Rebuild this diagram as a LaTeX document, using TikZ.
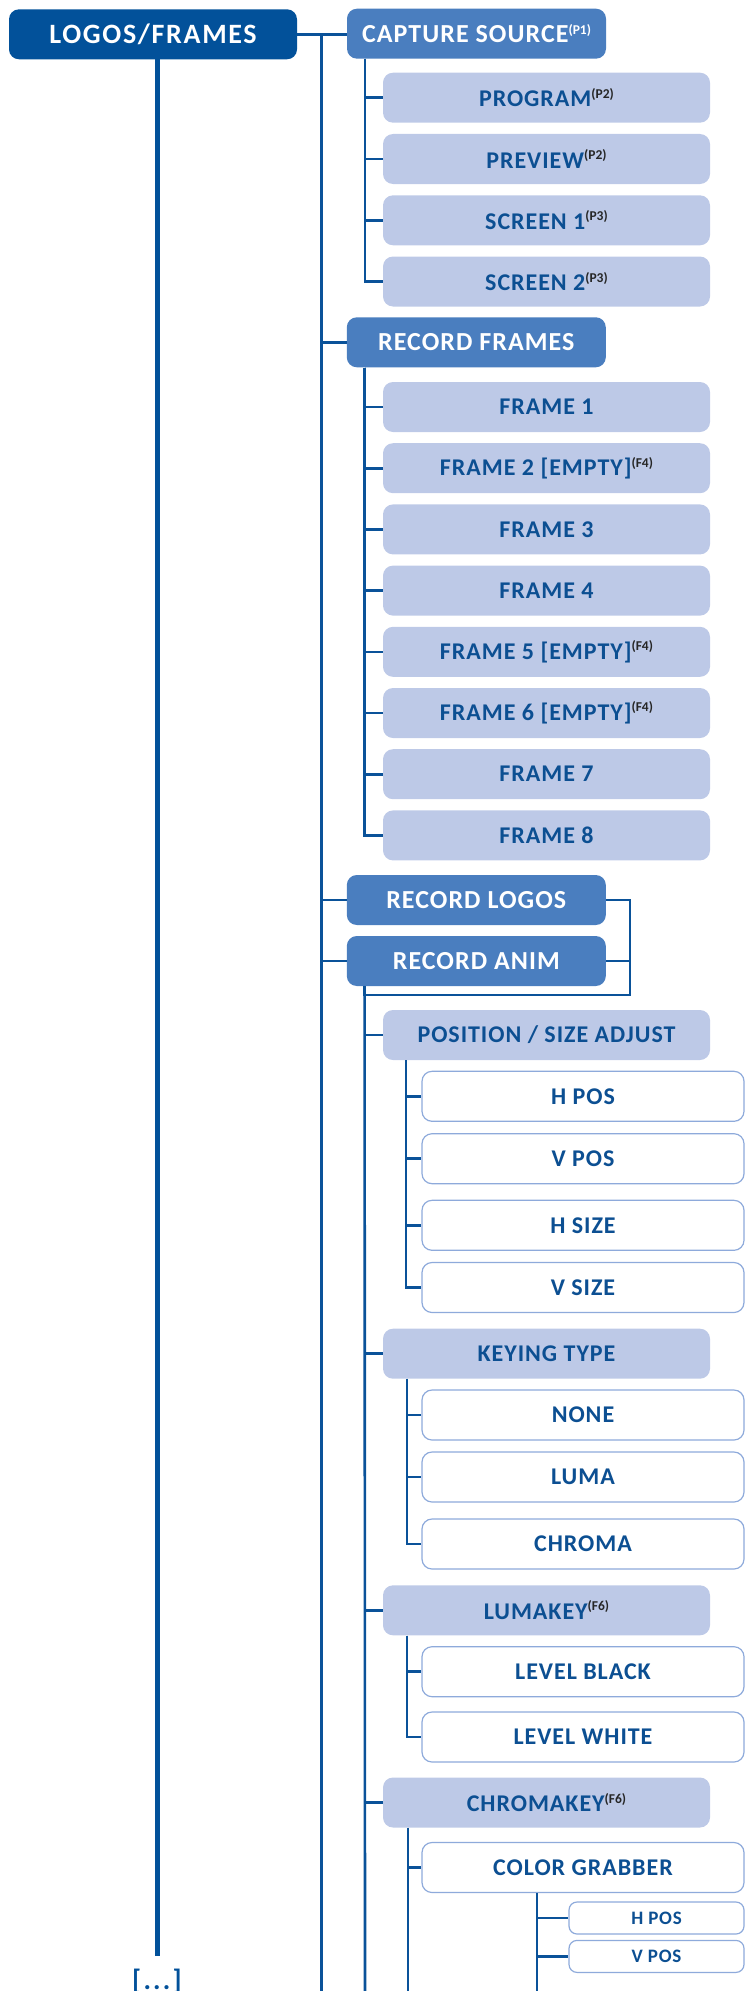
\documentclass[tikz,border=0pt]{standalone}
\usepackage{fontspec}
\setmainfont{Carlito}
\usetikzlibrary{calc}

\definecolor{rootblue}{HTML}{02519A}
\definecolor{midblue}{HTML}{4A7EBF}
\definecolor{paleblue}{HTML}{BDC9E7}
\definecolor{edgeblue}{HTML}{8EAADB}
\definecolor{inkblue}{HTML}{0C4F92}
\definecolor{lineblue}{HTML}{0A5299}
\definecolor{notegray}{HTML}{262626}

\newcommand{\noteref}[2][notegray]{\raisebox{8.5pt}{\fontsize{13.5}{14}\selectfont\addfontfeatures{LetterSpace=0}\color{#1}(#2)}}

\begin{document}
\begin{tikzpicture}[x=1pt, y=-1pt,
    rootbox/.style={fill=rootblue, text=white, rounded corners=10pt, minimum width=288pt, minimum height=50pt, font=\bfseries\fontsize{28}{30}\selectfont\addfontfeatures{LetterSpace=6}},
    groupbox/.style={fill=midblue, text=white, rounded corners=10pt, minimum width=259pt, minimum height=50pt, font=\bfseries\fontsize{26}{30}\selectfont\addfontfeatures{LetterSpace=4}},
    itembox/.style={fill=paleblue, text=inkblue, rounded corners=10pt, minimum width=327pt, minimum height=50pt, font=\bfseries\fontsize{24}{28}\selectfont\addfontfeatures{LetterSpace=4}},
    leafbox/.style={draw=edgeblue, line width=1.2pt, fill=white, text=inkblue, rounded corners=10pt, minimum width=322pt, minimum height=50pt, font=\bfseries\fontsize{24}{28}\selectfont\addfontfeatures{LetterSpace=4}},
    tinybox/.style={leafbox, rounded corners=8pt, minimum width=175pt, minimum height=32pt, font=\bfseries\fontsize{19}{22}\selectfont\addfontfeatures{LetterSpace=4}},
    link/.style={draw=lineblue, line width=2.6pt},
    rootlink/.style={draw=rootblue, line width=5pt}]

    \useasboundingbox (0,0) rectangle (745,1991);

    % Top level
    \node[rootbox] (root) at (153,34.3) {LOGOS/FRAMES};
    \node[groupbox] (cap) at (476.5,33.7) {CAPTURE SOURCE\noteref[white]{P1}};
    \node[groupbox] (frames) at (476.3,342.3) {RECORD FRAMES};
    \node[groupbox] (logos) at (476.3,900) {RECORD LOGOS};
    \node[groupbox] (anim) at (476.3,961) {RECORD ANIM};

    % Capture source
    \node[itembox] (prog) at (546.5,97.7) {PROGRAM\noteref{P2}};
    \node[itembox] (prev) at (546.5,159) {PREVIEW\noteref{P2}};
    \node[itembox] (scr1) at (546.5,220.3) {SCREEN 1\noteref{P3}};
    \node[itembox] (scr2) at (546.5,281.5) {SCREEN 2\noteref{P3}};

    % Frames
    \foreach \i/\txt in {1/{FRAME 1}, 2/{FRAME 2 [EMPTY]\noteref{F4}}, 3/{FRAME 3}, 4/{FRAME 4},
        5/{FRAME 5 [EMPTY]\noteref{F4}}, 6/{FRAME 6 [EMPTY]\noteref{F4}}, 7/{FRAME 7}, 8/{FRAME 8}}
        \node[itembox] (fr\i) at (546.5,{407+(\i-1)*61.2}) {\txt};

    % Anim settings
    \node[itembox] (pos) at (546.5,1035) {POSITION / SIZE ADJUST};
    \node[itembox] (key) at (546.5,1353.7) {KEYING TYPE};
    \node[itembox] (luma) at (546.5,1610.3) {LUMAKEY\noteref{F6}};
    \node[itembox] (chroma) at (546.5,1802.5) {CHROMAKEY\noteref{F6}};

    \node[leafbox] (hpos) at (583,1096.3) {H POS};
    \node[leafbox] (vpos) at (583,1158.7) {V POS};
    \node[leafbox] (hsize) at (583,1225.3) {H SIZE};
    \node[leafbox] (vsize) at (583,1287.5) {V SIZE};
    \node[leafbox] (none) at (583,1415) {NONE};
    \node[leafbox] (lumat) at (583,1477) {LUMA};
    \node[leafbox] (chromat) at (583,1544) {CHROMA};
    \node[leafbox] (lblack) at (583,1671.7) {LEVEL BLACK};
    \node[leafbox] (lwhite) at (583,1737) {LEVEL WHITE};
    \node[leafbox] (grab) at (583,1867.5) {COLOR GRABBER};
    \node[tinybox] (ghpos) at (656.5,1918) {H POS};
    \node[tinybox] (gvpos) at (656.5,1956.4) {V POS};

    \node[text=rootblue, font=\bfseries\fontsize{28}{30}\selectfont\addfontfeatures{LetterSpace=8}, anchor=base, inner sep=0pt] (more) at (157,1989) {[...]};

    % Lines
    \draw[rootlink] (root.south -| more.north) -- ([yshift=12pt]more.north);
    \draw[link] (root.east) -- (root.east -| cap.west);
    \coordinate (lvl1) at (321.7,1991);
    \draw[link] (root.east -| lvl1) -- (lvl1);
    \foreach \n in {frames,logos,anim}
        \draw[link] (lvl1 |- \n.west) -- (\n.west);

    \foreach \n in {prog,prev,scr1,scr2}
        \draw[link] ([xshift=18pt]cap.south west) |- (\n.west);
    \foreach \i in {1,...,8}
        \draw[link] ([xshift=18pt]frames.south west) |- (fr\i.west);

    \coordinate (brk) at (630,995);
    \draw[link] (logos.east) -| (brk) -| ([xshift=18pt]anim.south west);
    \draw[link] (anim.east) -- (anim.east -| brk);

    \coordinate (lvl2) at (365,1991);
    \draw[link] ([xshift=18pt]anim.south west) -- (lvl2);
    \foreach \n in {pos,key,luma,chroma}
        \draw[link] (lvl2 |- \n.west) -- (\n.west);

    \foreach \n in {hpos,vpos,hsize,vsize}
        \draw[link] ([xshift=23pt]pos.south west) |- (\n.west);
    \foreach \n in {none,lumat,chromat}
        \draw[link] ([xshift=24pt]key.south west) |- (\n.west);
    \foreach \n in {lblack,lwhite}
        \draw[link] ([xshift=24pt]luma.south west) |- (\n.west);

    \coordinate (lvl3) at (408,1991);
    \draw[link] (chroma.south -| lvl3) -- (lvl3);
    \draw[link] (lvl3 |- grab.west) -- (grab.west);
    \coordinate (lvl4) at (537,1991);
    \draw[link] (grab.south -| lvl4) -- (lvl4);
    \foreach \n in {ghpos,gvpos}
        \draw[link] (lvl4 |- \n.west) -- (\n.west);
\end{tikzpicture}
\end{document}
